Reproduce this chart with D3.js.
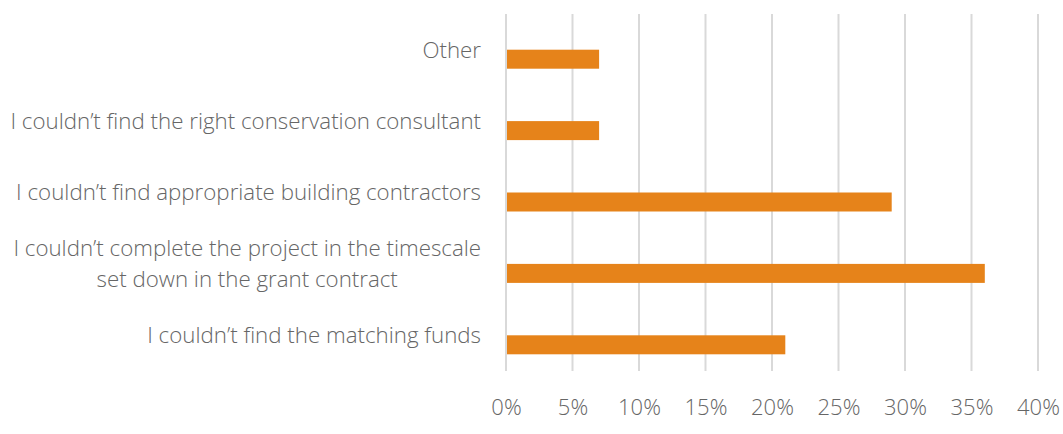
<!DOCTYPE html>
<html>
<head>
<meta charset="utf-8">
<script src="https://cdn.jsdelivr.net/npm/d3@7"></script>
<style>
  html, body { margin: 0; padding: 0; background: #fff; }
  svg { display: block; font-family: "Open Sans", "Segoe UI", sans-serif; font-weight: 300; }
</style>
</head>
<body>
<svg id="chart" width="1063" height="434"></svg>
<script>
// Reasons given, listed top to bottom
const categories = [
  "Other",
  "I couldn\u2019t find the right conservation consultant",
  "I couldn\u2019t find appropriate building contractors",
  "I couldn\u2019t complete the project in the timescale\nset down in the grant contract",
  "I couldn\u2019t find the matching funds"
];
// Share of respondents (%)
const values = [7, 7, 29, 36, 21];
const xTicks = [0, 5, 10, 15, 20, 25, 30, 35, 40];

const plot = { left: 506, right: 1038, top: 14, bottom: 371 };
const barColor = "#E6831A";
const textColor = "#666666";
const gridColor = "#d9d9d9";

const svg = d3.select("#chart");

const x = d3.scaleLinear().domain([0, 40]).range([plot.left, plot.right]);
const y = d3.scaleBand().domain(categories).range([plot.top, plot.bottom]).padding(0);
const barH = 19;

// vertical gridlines
svg.append("g")
  .selectAll("line")
  .data(xTicks)
  .join("line")
  .attr("x1", d => x(d)).attr("x2", d => x(d))
  .attr("y1", plot.top).attr("y2", plot.bottom)
  .attr("stroke", gridColor).attr("stroke-width", 2);

// bars sit in the lower half of each category slot
svg.append("g")
  .selectAll("rect")
  .data(values)
  .join("rect")
  .attr("x", x(0) + 1)
  .attr("y", (d, i) => y(categories[i]) + y.bandwidth() / 2)
  .attr("width", d => x(d) - x(0) - 1)
  .attr("height", barH)
  .attr("fill", barColor);

// x axis tick labels
const xAxis = d3.axisBottom(x)
  .tickValues(xTicks)
  .tickFormat(d => d + "%")
  .tickSize(0)
  .tickPadding(0);
const gx = svg.append("g")
  .attr("transform", `translate(0,${plot.bottom})`)
  .call(xAxis);
gx.select(".domain").remove();
gx.selectAll("text")
  .attr("y", 36)
  .attr("dy", "0.35em")
  .attr("fill", textColor)
  .style("font-size", "22px")
  .style("font-family", "\"Open Sans\", sans-serif")
  .style("font-weight", 300);

// category labels: right-aligned block, lines centred within the block
const labelRight = 481;
const lineH = 31;
const gl = svg.append("g");
categories.forEach(cat => {
  const lines = cat.split("\n");
  const cy = y(cat) + y.bandwidth() / 2;
  const t = gl.append("g");
  const texts = lines.map((ln, j) => t.append("text")
    .attr("y", cy + (j - (lines.length - 1) / 2) * lineH)
    .attr("dy", "0.35em")
    .attr("fill", textColor)
    .style("font-size", "22.3px")
    .text(ln));
  const widths = texts.map(s => s.node().getComputedTextLength());
  const maxW = d3.max(widths);
  const center = labelRight - maxW / 2;
  texts.forEach(s => s.attr("x", center).attr("text-anchor", "middle"));
});
</script>
</body>
</html>
